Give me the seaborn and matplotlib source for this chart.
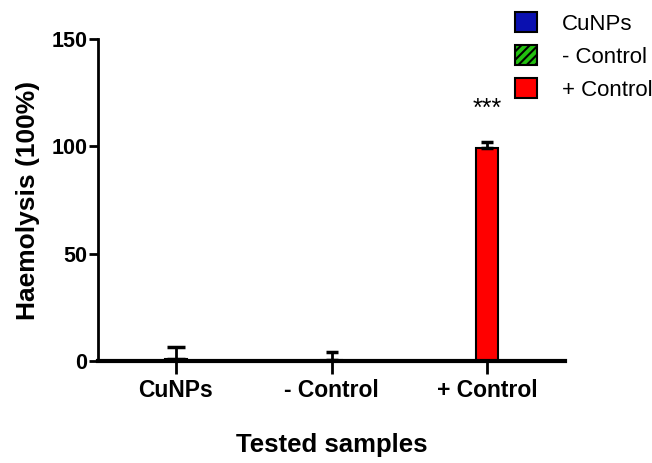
import matplotlib
matplotlib.use("Agg")
import matplotlib.pyplot as plt
from matplotlib.patches import Patch
import seaborn as sns
import pandas as pd

samples = ["CuNPs", "- Control", "+ Control"]
values = [1.0, 0.3, 99.3]
errors = [5.5, 4.0, 2.8]
colors = ["#0a10b0", "#22c010", "#ff0000"]
hatches = ["", "////", ""]
capsizes = [6.5, 4.5, 4.0]

sns.set_style("ticks")
plt.rcParams["font.family"] = ["Liberation Sans", "DejaVu Sans"]
plt.rcParams["text.color"] = "black"
plt.rcParams["xtick.color"] = "black"
plt.rcParams["ytick.color"] = "black"
plt.rcParams["axes.labelcolor"] = "black"
plt.rcParams["hatch.linewidth"] = 1.5

fig = plt.figure(figsize=(6.52, 4.63), dpi=100)
ax = fig.add_axes([98/652, 102/463, (565-98)/652, (361-39)/463])

df = pd.DataFrame({"sample": samples, "value": values})
sns.barplot(data=df, x="sample", y="value", hue="sample", palette=colors,
            saturation=1, width=0.14, edgecolor="black", linewidth=1.5,
            errorbar=None, legend=False, ax=ax, zorder=2)
for p, h in zip(ax.patches, hatches):
    if h:
        p.set_hatch(h)

for i, (v, e, cs) in enumerate(zip(values, errors, capsizes)):
    ax.errorbar([i], [v], yerr=[[0], [e]], fmt="none", ecolor="black",
                elinewidth=2, capsize=cs, capthick=2.5, zorder=3)

ax.set_ylim(0, 150)
ax.set_xlim(-0.5, 2.5)
ax.set_yticks([0, 50, 100, 150])
for s in ["top", "right"]:
    ax.spines[s].set_visible(False)
ax.spines["left"].set_linewidth(2)
ax.spines["left"].set_color("black")
ax.spines["bottom"].set_linewidth(3)
ax.spines["bottom"].set_color("black")
ax.spines["bottom"].set_zorder(4)
ax.tick_params(axis="y", length=6.5, width=2, labelsize=15.5, pad=1)
ax.tick_params(axis="x", length=9, width=2, labelsize=16.5, pad=4)
for lab in ax.get_xticklabels() + ax.get_yticklabels():
    lab.set_fontweight("bold")
ax.set_xlabel("Tested samples", fontsize=18.5, fontweight="bold", labelpad=22)
ax.set_ylabel("Haemolysis (100%)", fontsize=19, fontweight="bold", labelpad=8)

ax.text(2, 112, "***", ha="center", va="bottom", fontsize=18)

handles = [Patch(facecolor=c, edgecolor="black", hatch=h, linewidth=1.5)
           for c, h in zip(colors, hatches)]
fig.legend(handles, samples, loc="upper left",
           bbox_to_anchor=(515/652, 1 - 12/463), frameon=False,
           fontsize=16, handlelength=1.0, handleheight=1.0,
           labelspacing=0.48, handletextpad=1.1, borderpad=0, borderaxespad=0)

fig.savefig("out.png", dpi=100)
